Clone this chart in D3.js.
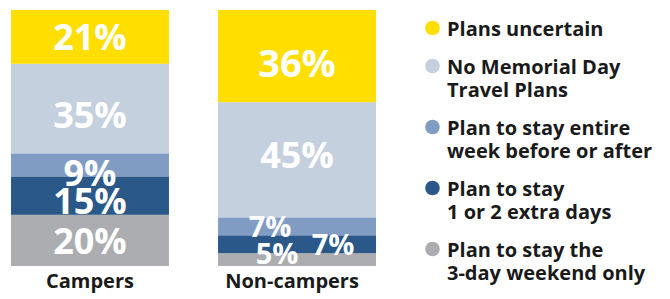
<!DOCTYPE html>
<html>
<head>
<meta charset="utf-8">
<script src="https://cdn.jsdelivr.net/npm/d3@7"></script>
<style>
  html, body { margin: 0; padding: 0; background: #fff; }
  svg { display: block; font-family: "Open Sans", sans-serif; }
</style>
</head>
<body>
<svg id="chart" width="670" height="299"></svg>
<script>
// ---- data ----
const categories = ["Campers", "Non-campers"];
const seriesKeys = ["weekend", "extraDays", "entireWeek", "noPlans", "uncertain"]; // bottom -> top
const weekendOnly   = [20, 5];
const extraDays     = [15, 7];
const entireWeek    = [9, 7];
const noPlans       = [35, 45];
const uncertain     = [21, 36];
const legendLabels = [
  ["Plans uncertain"],
  ["No Memorial Day", "Travel Plans"],
  ["Plan to stay entire", "week before or after"],
  ["Plan to stay", "1 or 2 extra days"],
  ["Plan to stay the", "3-day weekend only"]
];
const legendKeys = ["uncertain", "noPlans", "entireWeek", "extraDays", "weekend"];

// ---- styles ----
const colors = {
  uncertain: "#FFDE00",
  noPlans: "#C5D0DF",
  entireWeek: "#819CC3",
  extraDays: "#2A5888",
  weekend: "#ACADB0"
};
// label adjustments (dx, dy, font size) keyed by category index + series
const labelAdj = {
  "0-uncertain": {dx: 0, dy: 0, fs: 36},
  "0-noPlans": {dx: 0, dy: 6, fs: 36},
  "0-entireWeek": {dx: 0, dy: 8, fs: 36},
  "0-extraDays": {dx: 0, dy: 5, fs: 36},
  "0-weekend": {dx: 0, dy: 1, fs: 36},
  "1-uncertain": {dx: 0, dy: 7, fs: 38},
  "1-noPlans": {dx: 0, dy: -5, fs: 36},
  "1-entireWeek": {dx: -27, dy: 0, fs: 29},
  "1-extraDays": {dx: 36, dy: 0, fs: 29},
  "1-weekend": {dx: -20, dy: -6, fs: 29}
};
const categoryDx = [0, -5];

const rows = categories.map((c, i) => ({
  category: c,
  weekend: weekendOnly[i],
  extraDays: extraDays[i],
  entireWeek: entireWeek[i],
  noPlans: noPlans[i],
  uncertain: uncertain[i]
}));

const svg = d3.select("#chart");

const x = d3.scaleBand().domain(categories).range([11, 376]).paddingInner(0.237).paddingOuter(0);
const y = d3.scaleLinear().domain([0, 100]).range([266, 10]);

const stacked = d3.stack().keys(seriesKeys)(rows);

const layers = svg.append("g").selectAll("g")
  .data(stacked).join("g")
  .attr("fill", d => colors[d.key]);

layers.selectAll("rect")
  .data(d => d.map(v => Object.assign(v, {key: d.key})))
  .join("rect")
  .attr("x", d => x(d.data.category))
  .attr("width", x.bandwidth())
  .attr("y", d => y(d[1]))
  .attr("height", d => y(d[0]) - y(d[1]));

// value labels
const labelData = [];
stacked.forEach(s => s.forEach((v, i) => labelData.push({key: s.key, i, v})));
svg.append("g").selectAll("text")
  .data(labelData).join("text")
  .each(function(d) {
    const adj = labelAdj[d.i + "-" + d.key];
    const cx = x(d.v.data.category) + x.bandwidth() / 2 + adj.dx;
    const cy = (y(d.v[0]) + y(d.v[1])) / 2 + adj.fs * 0.36 + adj.dy;
    d3.select(this)
      .attr("x", cx).attr("y", cy)
      .attr("font-size", adj.fs);
  })
  .attr("text-anchor", "middle")
  .attr("font-weight", 700)
  .attr("fill", "#fff")
  .text(d => (d.v[1] - d.v[0]) + "%");

// category axis
const xAxis = svg.append("g")
  .attr("transform", "translate(0,288)")
  .call(d3.axisBottom(x).tickSize(0).tickPadding(0));
xAxis.select(".domain").remove();
xAxis.selectAll("text")
  .attr("dy", 0)
  .attr("dx", (d, i) => categoryDx[i])
  .attr("font-family", "Open Sans, sans-serif")
  .attr("font-size", 20)
  .attr("font-weight", 700)
  .attr("fill", "#1a1a1a");

// legend
const legend = svg.append("g");
let yPos = 36;
legendKeys.forEach((k, i) => {
  const g = legend.append("g");
  g.append("circle").attr("cx", 432.5).attr("cy", yPos - 8).attr("r", 7.3).attr("fill", colors[k]);
  legendLabels[i].forEach((line, j) => {
    g.append("text")
      .attr("x", 447)
      .attr("y", yPos + j * 23)
      .attr("font-size", 20)
      .attr("font-weight", 700)
      .attr("fill", "#1a1a1a")
      .text(line);
  });
  yPos += legendLabels[i].length * 23 + 15;
});
</script>
</body>
</html>
